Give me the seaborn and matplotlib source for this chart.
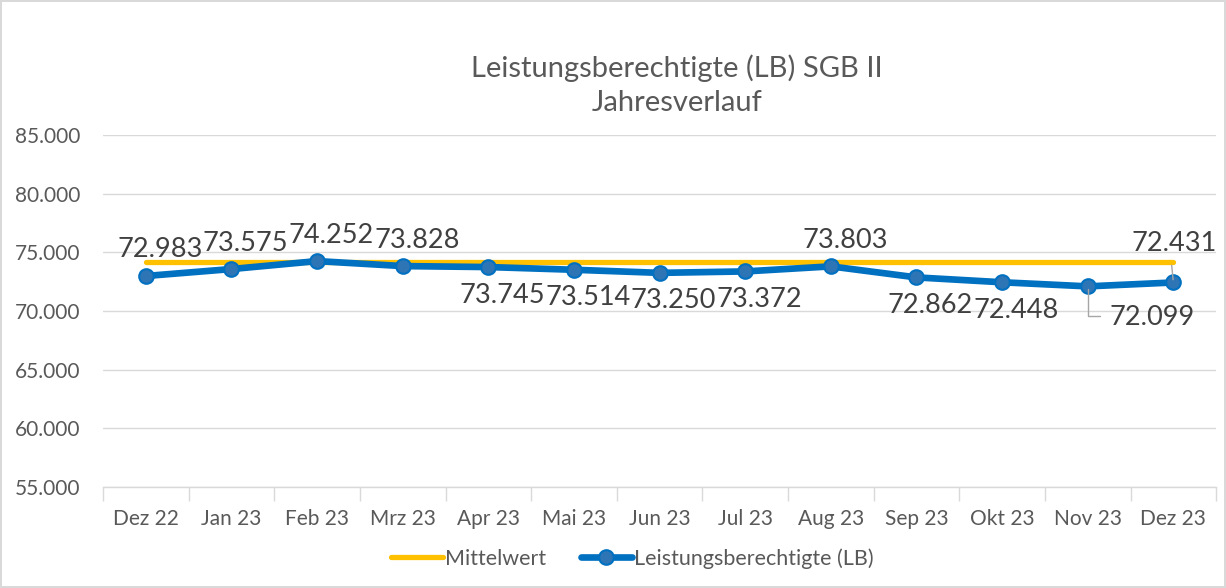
import numpy as np
import pandas as pd
import matplotlib
matplotlib.use('Agg')
import matplotlib.pyplot as plt
import seaborn as sns

# ---------------------------------------------------------------
# data
# ---------------------------------------------------------------
months = ['Dez 22', 'Jan 23', 'Feb 23', 'Mrz 23', 'Apr 23', 'Mai 23', 'Jun 23',
          'Jul 23', 'Aug 23', 'Sep 23', 'Okt 23', 'Nov 23', 'Dez 23']
lb_values = [72983, 73575, 74252, 73828, 73745, 73514, 73250,
             73372, 73803, 72862, 72448, 72099, 72431]
mittelwert = [74150] * len(months)
label_above = [True, True, True, True, False, False, False,
               False, True, False, False, False, True]

df = pd.DataFrame({'Monat': months, 'LB': lb_values, 'Mittelwert': mittelwert})
df['pos'] = np.arange(len(df))

YELLOW = '#FFC000'
BLUE = '#0070C0'
GREY_TXT = '#595959'
GRID = '#D9D9D9'

sns.set_theme(style='white')
plt.rcParams['font.family'] = ['Lato', 'DejaVu Sans']


def de_fmt(v):
    return f"{v:,.0f}".replace(",", ".")


fig = plt.figure(figsize=(12.26, 5.88), dpi=100)
fig.patch.set_edgecolor(GRID)
fig.patch.set_linewidth(1.5)
ax = fig.add_axes([0.084, 0.1718, 0.908, 0.5986])

sns.lineplot(data=df, x='pos', y='Mittelwert', ax=ax, color=YELLOW,
             linewidth=3.8, label='Mittelwert', solid_capstyle='round')
sns.lineplot(data=df, x='pos', y='LB', ax=ax, color=BLUE, linewidth=4.8,
             marker='o', markersize=10.5, markerfacecolor='#2E75B6',
             markeredgecolor=BLUE, markeredgewidth=1.5,
             label='Leistungsberechtigte (LB)')

# data labels
for i, (v, up) in enumerate(zip(lb_values, label_above)):
    dx, dy = 14, (26 if up else -28)
    if i == 11:
        dx, dy = 64, -31
        ax.annotate('', xy=(i, v), xytext=(15, -30), textcoords='offset pixels',
                    arrowprops=dict(arrowstyle='-', color='#A6A6A6', lw=1,
                                    connectionstyle='angle,angleA=0,angleB=90,rad=0'))
    if i == 12:
        dx, dy = 1, 39
        ax.annotate('', xy=(i, v), xytext=(-2, 20), textcoords='offset pixels',
                    arrowprops=dict(arrowstyle='-', color='#A6A6A6', lw=1))
    ax.annotate(de_fmt(v), xy=(i, v), xytext=(dx, dy), textcoords='offset pixels',
                ha='center', va='center', fontsize=19.5, color='#404040')

ax.set_ylim(55000, 85000)
ax.set_xlim(-0.5, len(months) - 0.5)
ax.set_yticks(np.arange(55000, 85001, 5000))
ax.set_yticklabels([de_fmt(t) for t in np.arange(55000, 85001, 5000)])
ax.set_xticks(df['pos'])
ax.set_xticklabels(months)
ax.set_xticks(np.arange(-0.5, len(months)), minor=True)
ax.tick_params(axis='x', which='major', length=0, pad=16, labelsize=15,
               labelcolor=GREY_TXT)
ax.tick_params(axis='x', which='minor', length=10, width=1, color=GRID,
               direction='out', bottom=True)
ax.tick_params(axis='y', length=0, pad=16, labelsize=15, labelcolor=GREY_TXT)
ax.grid(axis='y', color=GRID, linewidth=1)
ax.set_axisbelow(True)
ax.set_xlabel('')
ax.set_ylabel('')
for s in ['top', 'right', 'left']:
    ax.spines[s].set_visible(False)
ax.spines['bottom'].set_color(GRID)
ax.spines['bottom'].set_linewidth(1)

fig.text(0.552, 0.855, 'Leistungsberechtigte (LB) SGB II\nJahresverlauf',
         ha='center', va='center', fontsize=21, color=GREY_TXT, linespacing=1.4)

leg = ax.legend(loc='center', bbox_to_anchor=(0.516, 0.05),
                bbox_transform=fig.transFigure, ncol=2, frameon=False,
                fontsize=15.5, handlelength=2.4, handletextpad=0.1,
                columnspacing=1.6)
for t in leg.get_texts():
    t.set_color(GREY_TXT)

fig.savefig('out.png', dpi=100, edgecolor=fig.get_edgecolor())
